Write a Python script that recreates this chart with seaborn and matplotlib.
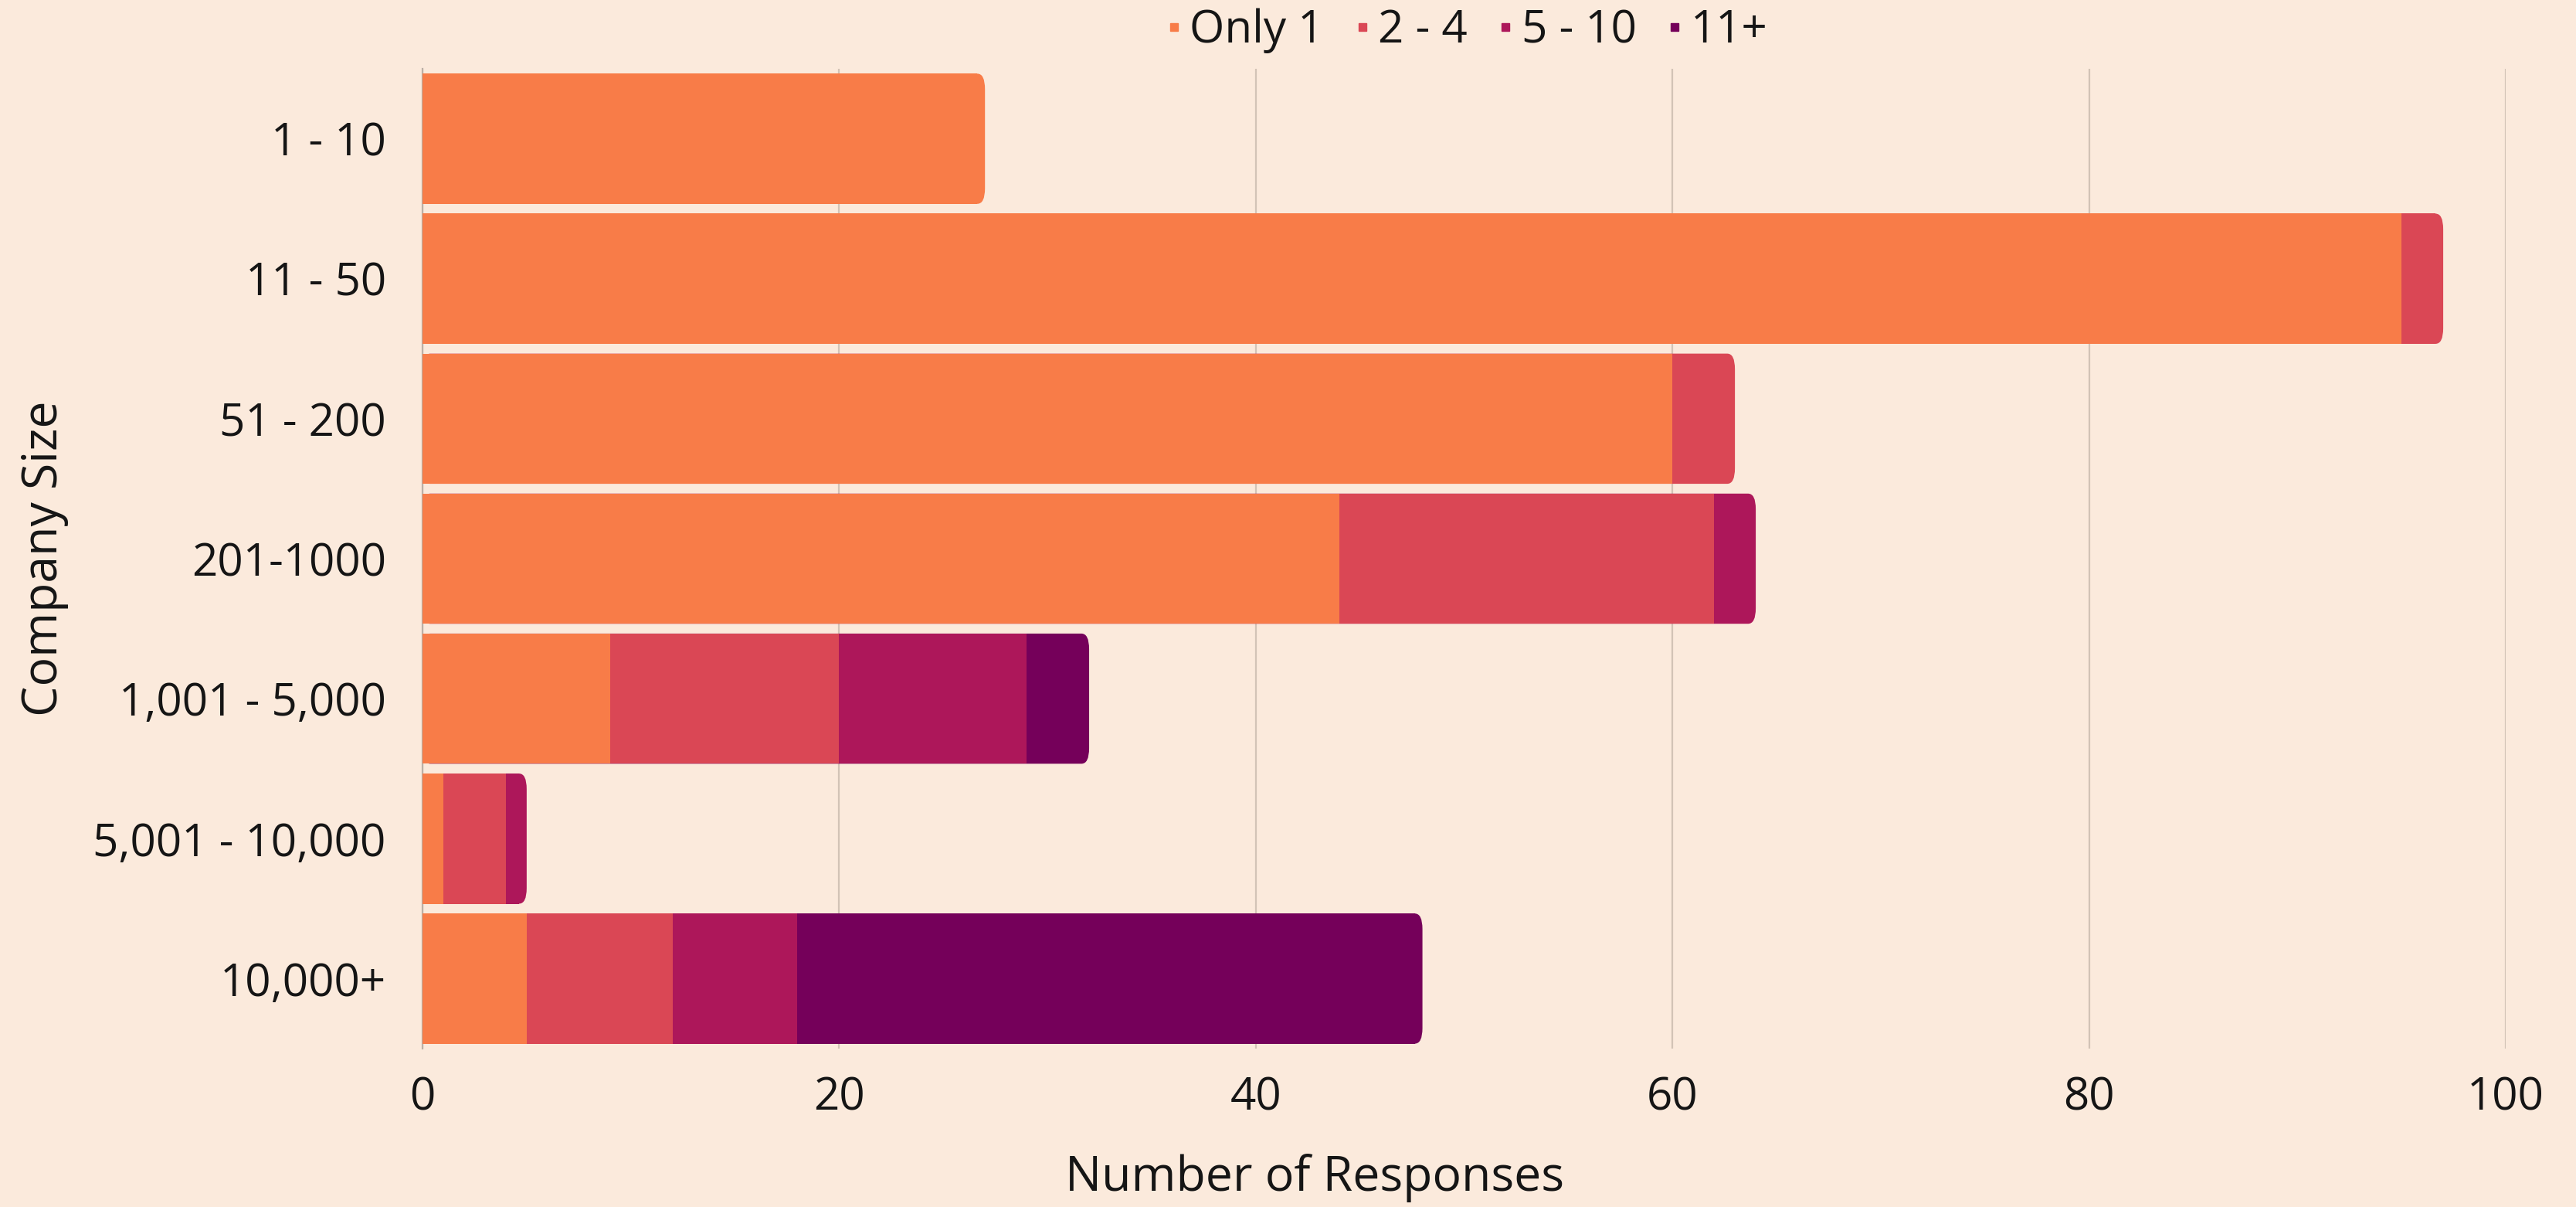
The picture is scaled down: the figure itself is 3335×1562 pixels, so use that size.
import matplotlib
matplotlib.use("Agg")
import matplotlib.pyplot as plt
import seaborn as sns
import pandas as pd
import numpy as np
from matplotlib.patches import FancyBboxPatch
from matplotlib.lines import Line2D

categories = ["1 - 10", "11 - 50", "51 - 200", "201-1000", "1,001 - 5,000", "5,001 - 10,000", "10,000+"]
series_names = ["Only 1", "2 - 4", "5 - 10", "11+"]
only1 = [27, 95, 60, 44, 9, 1, 5]
two_four = [0, 2, 3, 18, 11, 3, 7]
five_ten = [0, 0, 0, 2, 9, 1, 6]
eleven_plus = [0, 0, 0, 0, 3, 0, 30]
colors = ["#F87C48", "#DA4755", "#AD175A", "#75005A"]
x_ticks = [0, 20, 40, 60, 80, 100]

BG = "#FBEADC"
TXT = "#151515"
FS = 42
FS_LAB = 45

sns.set_theme(style="white")
plt.rcParams["font.family"] = ["Open Sans", "DejaVu Sans"]

df = pd.DataFrame({"size": categories, "Only 1": only1, "2 - 4": two_four,
                   "5 - 10": five_ten, "11+": eleven_plus})
cum = df[series_names].cumsum(axis=1)
df_cum = pd.concat([df[["size"]], cum], axis=1)

W, H = 3335, 1562
L, R, T, B = 547, 3244, 89, 1357
fig = plt.figure(figsize=(W / 100, H / 100), dpi=100, facecolor=BG)
ax = fig.add_axes([L / W, 1 - B / H, (R - L) / W, (B - T) / H])
ax.set_facecolor(BG)

bw = 0.93
top_patches = {}
for name, col in reversed(list(zip(series_names, colors))):
    n_before = len(ax.patches)
    sns.barplot(data=df_cum, y="size", x=name, order=categories, color=col,
                width=bw, orient="h", ax=ax, saturation=1, linewidth=0, zorder=3)
    new = list(ax.patches[n_before:])
    for i, p in enumerate(new):
        if df[name][i] <= 0:
            p.remove()
        elif i not in top_patches:
            top_patches[i] = (p, col)

# round the right end of each stacked bar
r = 0.37
for i, (p, col) in top_patches.items():
    x0, y0, w, h = p.get_x(), p.get_y(), p.get_width(), p.get_height()
    fb = FancyBboxPatch((x0, y0), w, h, boxstyle=f"round,pad=0,rounding_size={r}",
                        mutation_aspect=0.3, facecolor=col, edgecolor="none", zorder=2.9)
    ax.add_patch(fb)
    p.set_width(w - r)

ax.set_xlim(0, 100)
ax.set_ylim(6.5, -0.5)
ax.set_xticks(x_ticks)
ax.xaxis.grid(True, color="#D2C3B6", linewidth=1.6, zorder=0)
ax.yaxis.grid(False)
for s in ["top", "right", "bottom"]:
    ax.spines[s].set_visible(False)
ax.spines["left"].set_color("#BBB0A6")
ax.spines["left"].set_linewidth(1.6)
ax.spines["left"].set_zorder(1)
ax.tick_params(axis="both", length=0, labelsize=FS, colors=TXT)
ax.tick_params(axis="x", pad=25)
ax.tick_params(axis="y", pad=34)
ax.set_xlabel("Number of Responses", fontsize=FS_LAB, color=TXT, va="center")
ax.xaxis.set_label_coords((1702 - L) / (R - L), -(1525 - B) / (B - T))
ax.set_ylabel("Company Size", fontsize=FS_LAB, color=TXT, va="center")
ax.yaxis.set_label_coords(-(L - 58) / (R - L), 0.5)

handles = [Line2D([0], [0], marker="s", linestyle="none", markersize=7,
                  markerfacecolor=c, markeredgecolor=c) for c in colors]
fig.legend(handles, series_names, loc="center", ncol=4,
           bbox_to_anchor=((L + R) / 2 / W, 1 - 40 / H),
           frameon=False, fontsize=FS, handletextpad=0.05, columnspacing=0.55,
           handlelength=0.6, labelcolor=TXT)

fig.savefig("out.png", dpi=100, facecolor=BG)
